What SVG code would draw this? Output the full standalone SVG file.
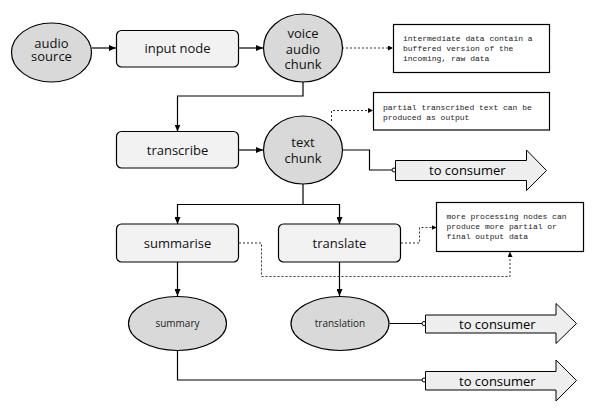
<svg xmlns="http://www.w3.org/2000/svg" width="595" height="416" viewBox="0 0 595 416">
<defs>
<marker id="ah" markerWidth="8" markerHeight="6" refX="7" refY="3" orient="auto" markerUnits="userSpaceOnUse"><path d="M0,0 L7,3 L0,6 z" fill="#000"/></marker>
<marker id="ahs" markerWidth="6" markerHeight="5" refX="5" refY="2.5" orient="auto" markerUnits="userSpaceOnUse"><path d="M0,0 L5,2.5 L0,5 z" fill="#000"/></marker>
<marker id="oc" markerWidth="6" markerHeight="6" refX="3" refY="3" orient="auto" markerUnits="userSpaceOnUse"><circle cx="3" cy="3" r="2" fill="#fff" stroke="#000" stroke-width="1"/></marker>
</defs>
<style>
.proc{fill:#f2f2f2;stroke:#000;stroke-width:1.2}
.data{fill:#d9d9d9;stroke:#000;stroke-width:1.2}
.note{fill:#fff;stroke:#000;stroke-width:1.2}
.out{fill:#eeeeee;stroke:#000;stroke-width:1}
.lbl{font-family:"Open Sans","Noto Sans",sans-serif;font-size:13px;fill:#111;text-anchor:middle}
.sm{font-family:"Open Sans","Noto Sans",sans-serif;font-size:10px;fill:#222;text-anchor:middle}
.mono{font-family:"Liberation Mono","DejaVu Sans Mono",monospace;font-size:8px;fill:#222}
.con{fill:none;stroke:#000;stroke-width:1.2}
.dot{fill:none;stroke:#333;stroke-width:1;stroke-dasharray:2,2}
.cons{font-family:"Open Sans","Noto Sans",sans-serif;font-size:13px;fill:#000}
</style>
<g id="connectors">
<path class="con" d="M92,48 H116" marker-end="url(#ah)"/>
<path class="con" d="M238.5,48 H263" marker-end="url(#ah)"/>
<path class="con" d="M303,82 V96 H177.5 V131.5" marker-end="url(#ah)"/>
<path class="con" d="M238.5,150 H263" marker-end="url(#ah)"/>
<path class="con" d="M342,150 H369.5 V170 H394" marker-end="url(#oc)"/>
<path class="con" d="M303,184 V204.5 H177.5 V224" marker-end="url(#ah)"/>
<path class="con" d="M303,204.5 H339.5 V224" marker-end="url(#ah)"/>
<path class="con" d="M177.5,262 V296" marker-end="url(#ah)"/>
<path class="con" d="M339.5,262 V296" marker-end="url(#ah)"/>
<path class="con" d="M389.5,323.5 H424" marker-end="url(#oc)"/>
<path class="con" d="M177.5,350.5 V380 H424" marker-end="url(#oc)"/>
<path class="dot" d="M342,48 H393" marker-end="url(#ahs)"/>
<path class="dot" d="M331.5,121 V110.5 H373" marker-end="url(#ahs)"/>
<path class="dot" d="M239,243 H261.5 V276.5 H510 V252" marker-end="url(#ahs)"/>
<path class="dot" d="M401,243 H419.5 V227.5 H436.5" marker-end="url(#ahs)"/>
</g>
<g id="audio-source"><ellipse class="data" cx="51.5" cy="52.5" rx="40" ry="29.5"/><text class="lbl" x="51.5" y="47.5">audio</text><text class="lbl" x="51.5" y="61">source</text></g>
<g id="input-node"><rect class="proc" x="116.5" y="30.5" width="122" height="36.5" rx="5"/><text class="lbl" x="177.5" y="53">input node</text></g>
<g id="voice-audio-chunk"><ellipse class="data" cx="303" cy="48" rx="39.5" ry="34"/><text class="lbl" x="303" y="38">voice</text><text class="lbl" x="303" y="53.5">audio</text><text class="lbl" x="303" y="69">chunk</text></g>
<g id="note-intermediate"><rect class="note" x="393.5" y="24.5" width="156" height="48"/><text class="mono" x="403" y="41">intermediate data contain a</text><text class="mono" x="403" y="51">buffered version of the</text><text class="mono" x="403" y="61">incoming, raw data</text></g>
<g id="transcribe"><rect class="proc" x="116.5" y="131.5" width="122" height="36.5" rx="5"/><text class="lbl" x="177.5" y="154.5">transcribe</text></g>
<g id="text-chunk"><ellipse class="data" cx="303" cy="150" rx="39.5" ry="34"/><text class="lbl" x="303" y="147">text</text><text class="lbl" x="303" y="163">chunk</text></g>
<g id="note-partial"><rect class="note" x="373.5" y="92.5" width="176" height="37.5"/><text class="mono" x="383" y="109.5">partial transcribed text can be</text><text class="mono" x="383" y="119.5">produced as output</text></g>
<g id="out-text"><path class="out" d="M395.5,160.5 H526.5 V150 L546.5,170.5 L526.5,190.5 V180.5 H395.5 z"/><text class="cons" x="429" y="175">to consumer</text></g>
<g id="summarise"><rect class="proc" x="116.5" y="224" width="122" height="38" rx="5"/><text class="lbl" x="177.5" y="247.5">summarise</text></g>
<g id="translate"><rect class="proc" x="278.5" y="224" width="122" height="38" rx="5"/><text class="lbl" x="339.5" y="247.5">translate</text></g>
<g id="note-more"><rect class="note" x="436.5" y="202.5" width="147" height="49"/><text class="mono" x="446.5" y="219">more processing nodes can</text><text class="mono" x="446.5" y="229">produce more partial or</text><text class="mono" x="446.5" y="239">final output data</text></g>
<g id="summary"><ellipse class="data" cx="177.5" cy="323.5" rx="49" ry="27"/><text class="sm" x="177.5" y="327">summary</text></g>
<g id="translation"><ellipse class="data" cx="340" cy="323.5" rx="49" ry="27"/><text class="sm" x="340" y="327">translation</text></g>
<g id="out-translation"><path class="out" d="M425.5,315 H556 V303.5 L576.5,323.5 L556,343.5 V333 H425.5 z"/><text class="cons" x="459" y="328.5">to consumer</text></g>
<g id="out-summary"><path class="out" d="M425.5,371.5 H556 V360 L576.5,380.5 L556,401 V390 H425.5 z"/><text class="cons" x="459" y="385.5">to consumer</text></g>
</svg>
